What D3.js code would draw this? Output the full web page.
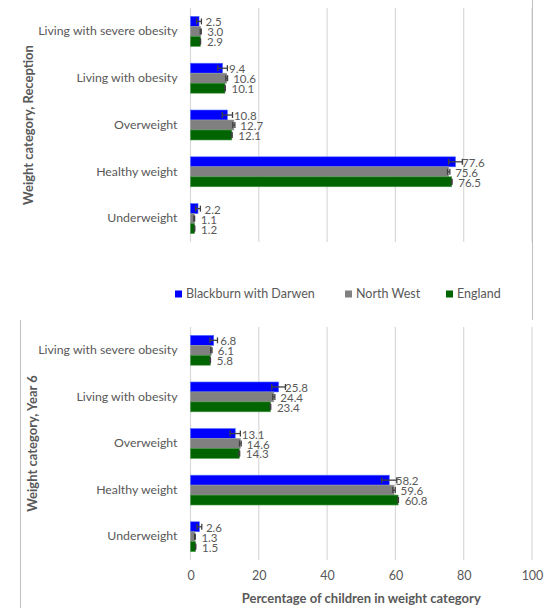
<!DOCTYPE html>
<html>
<head>
<meta charset="utf-8">
<script src="https://cdn.jsdelivr.net/npm/d3@7"></script>
<style>
  html, body { margin: 0; padding: 0; background: #fff; }
  svg text { font-family: Lato, "Open Sans", sans-serif; }
</style>
</head>
<body>
<svg id="chart" width="560" height="608"></svg>
<script>
// Weight categories, top to bottom
const categories = ["Living with severe obesity", "Living with obesity", "Overweight", "Healthy weight", "Underweight"];
const seriesNames = ["Blackburn with Darwen", "North West", "England"];
const seriesColors = ["#0000ff", "#808080", "#006400"];
const seriesStroke = ["#4d6dff", "#9a9a9a", "#4f9a4f"];

// Reception (age 4-5) prevalence, %
const receptionBwD = [2.5, 9.4, 10.8, 77.6, 2.2];
const receptionNW = [3.0, 10.6, 12.7, 75.6, 1.1];
const receptionEng = [2.9, 10.1, 12.1, 76.5, 1.2];
// 95% confidence interval half-widths, percentage points
const receptionBwDci = [0.7, 1.4, 1.5, 2.0, 0.7];
const receptionNWci = [0.15, 0.25, 0.3, 0.35, 0.1];
const receptionEngci = [0.05, 0.1, 0.1, 0.1, 0.05];

// Year 6 (age 10-11) prevalence, %
const year6BwD = [6.8, 25.8, 13.1, 58.2, 2.6];
const year6NW = [6.1, 24.4, 14.6, 59.6, 1.3];
const year6Eng = [5.8, 23.4, 14.3, 60.8, 1.5];
const year6BwDci = [1.1, 2.0, 1.5, 2.2, 0.7];
const year6NWci = [0.2, 0.3, 0.25, 0.35, 0.1];
const year6Engci = [0.05, 0.1, 0.1, 0.1, 0.05];

const xTicks = [0, 20, 40, 60, 80, 100];

const svg = d3.select("#chart");
const textColor = "#595959";
const gridColor = "#d9d9d9";

const x = d3.scaleLinear().domain([0, 100]).range([190.5, 532]);

function drawPanel(cfg) {
  const g = svg.append("g");
  const y = d3.scaleBand().domain(categories).range([cfg.top, cfg.bottom]).paddingInner(0.36).paddingOuter(0.18);
  const yInner = d3.scaleBand().domain(d3.range(3)).range([0, y.bandwidth()]);

  // vertical gridlines
  g.append("g").selectAll("line").data(xTicks).join("line")
    .attr("x1", d => x(d)).attr("x2", d => x(d))
    .attr("y1", cfg.top).attr("y2", cfg.bottom)
    .attr("stroke", gridColor).attr("stroke-width", 1.2);

  // category labels
  const yAxis = d3.axisLeft(y).tickSize(0).tickPadding(13);
  const ya = g.append("g").attr("transform", `translate(${x(0)},0)`).call(yAxis);
  ya.select(".domain").remove();
  ya.selectAll("text").attr("fill", textColor).attr("font-size", 12.3).attr("dy", "0.3em");

  const series = [cfg.values[0], cfg.values[1], cfg.values[2]];
  series.forEach((vals, si) => {
    const rows = categories.map((c, i) => ({ c, v: vals[i], ci: cfg.ci[si][i] }));
    const sg = g.append("g");
    sg.selectAll("rect").data(rows).join("rect")
      .attr("x", x(0))
      .attr("y", d => y(d.c) + yInner(si))
      .attr("width", d => x(d.v) - x(0))
      .attr("height", yInner.bandwidth())
      .attr("fill", seriesColors[si])
      .attr("stroke", seriesStroke[si]).attr("stroke-width", 0.6);

    // error bars
    const eb = sg.selectAll("g.err").data(rows).join("g").attr("class", "err")
      .attr("transform", d => `translate(0,${y(d.c) + yInner(si) + yInner.bandwidth() / 2})`);
    const cap = yInner.bandwidth() * 0.3;
    eb.append("line")
      .attr("x1", d => x(d.v - d.ci)).attr("x2", d => x(d.v + d.ci))
      .attr("y1", 0).attr("y2", 0).attr("stroke", "#404040").attr("stroke-width", 1.3);
    eb.append("line")
      .attr("x1", d => x(d.v - d.ci)).attr("x2", d => x(d.v - d.ci))
      .attr("y1", -cap).attr("y2", cap).attr("stroke", "#404040").attr("stroke-width", 1.3);
    eb.append("line")
      .attr("x1", d => x(d.v + d.ci)).attr("x2", d => x(d.v + d.ci))
      .attr("y1", -cap).attr("y2", cap).attr("stroke", "#404040").attr("stroke-width", 1.3);

    // value labels
    sg.selectAll("text.val").data(rows).join("text").attr("class", "val")
      .attr("x", d => x(d.v) + 6.5)
      .attr("y", d => y(d.c) + yInner(si) + yInner.bandwidth() / 2 + 1)
      .attr("dy", "0.35em")
      .attr("fill", textColor).attr("font-size", 11.5)
      .text(d => d.v.toFixed(1));
  });

  // y axis title
  g.append("text")
    .attr("transform", `translate(${cfg.titleX},${(cfg.top + cfg.bottom) / 2}) rotate(-90)`)
    .attr("text-anchor", "middle").attr("dy", "0.35em")
    .attr("fill", textColor).attr("font-size", 13).attr("font-weight", "bold")
    .text(cfg.title);
  return g;
}

drawPanel({
  top: 8, bottom: 242, titleX: 28,
  title: "Weight category, Reception",
  values: [receptionBwD, receptionNW, receptionEng],
  ci: [receptionBwDci, receptionNWci, receptionEngci]
});

drawPanel({
  top: 327, bottom: 560, titleX: 32,
  title: "Weight category, Year 6",
  values: [year6BwD, year6NW, year6Eng],
  ci: [year6BwDci, year6NWci, year6Engci]
});

// x axis for the Year 6 panel
const xa = svg.append("g").attr("transform", "translate(0,566)")
  .call(d3.axisBottom(x).tickValues(xTicks).tickSize(0).tickPadding(5));
xa.select(".domain").remove();
xa.selectAll("text").attr("fill", textColor).attr("font-size", 12.5);

svg.append("text")
  .attr("x", (x(0) + x(100)) / 2).attr("y", 598).attr("dy", "0.35em")
  .attr("text-anchor", "middle").attr("fill", textColor)
  .attr("font-size", 13).attr("font-weight", "bold")
  .text("Percentage of children in weight category");

// legend
const legendX = [175, 345, 446];
const lg = svg.append("g").selectAll("g").data(seriesNames).join("g")
  .attr("transform", (d, i) => `translate(${legendX[i]},294)`);
lg.append("rect").attr("x", 0).attr("y", -3.5).attr("width", 7).attr("height", 7)
  .attr("fill", (d, i) => seriesColors[i]);
lg.append("text").attr("x", 11).attr("y", 0).attr("dy", "0.35em")
  .attr("fill", textColor).attr("font-size", 12.5).text(d => d);

// chart frame edges
svg.append("line").attr("x1", 532.5).attr("x2", 532.5).attr("y1", 0).attr("y2", 320)
  .attr("stroke", "#bfbfbf").attr("stroke-width", 1);
svg.append("line").attr("x1", 20.5).attr("x2", 20.5).attr("y1", 320).attr("y2", 608)
  .attr("stroke", "#bfbfbf").attr("stroke-width", 1);
</script>
</body>
</html>
